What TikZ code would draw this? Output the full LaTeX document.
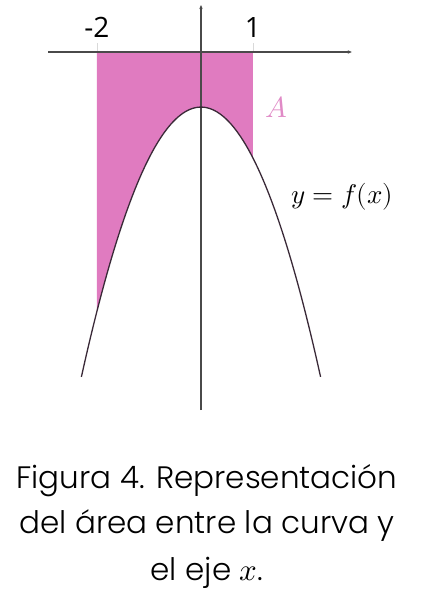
\documentclass[tikz,border=0pt]{standalone}
\usepackage{fontspec}
\usepackage{unicode-math}
\setmainfont{Poppins}[UprightFont=* Light]
\setmathfont{Latin Modern Math}
\newfontfamily\tickfont{Open Sans}
\usetikzlibrary{arrows.meta}
\definecolor{fpink}{HTML}{E07BC0}
\definecolor{fpinktxt}{HTML}{E08AC6}
\definecolor{faxis}{HTML}{4A4A4A}
\definecolor{fcurve}{HTML}{3A2A38}
\tikzset{
  axis/.style    = {draw=faxis, line width=1.3pt, -{Stealth[length=4pt,width=3.5pt]}},
  curve/.style   = {draw=fcurve, line width=1.3pt},
  region/.style  = {fill=fpink},
  faint/.style   = {draw=black!15, line width=0.6pt},
  ticklab/.style = {font=\tickfont\fontsize{28}{30}\selectfont},
  caption/.style = {anchor=base, font=\fontsize{31}{33}\selectfont},
}

\begin{document}
\begin{tikzpicture}[x=52pt,y=51pt]
\useasboundingbox (-3.865,-10.627) rectangle (4.212,1.0196);
% shaded area
\fill[region] (-2,0) -- plot[domain=-2:1,samples=60] (\x,{-1.08-\x*\x}) -- (1,0) -- cycle;
\draw[faint] (-2,0) -- (-2,0.18);
\draw[faint] (1,0) -- (1,0.18);
% axes
\draw[axis] (-2.94,0) -- (2.9,0);
\draw[axis] (0,-7.02) -- (0,0.92);
% curve
\draw[curve] plot[domain=-2.3:2.3,samples=100] (\x,{-1.08-\x*\x});
\node[ticklab] (tm2) at (-2,0.49) {-2};
\node[ticklab] (tp1) at (1,0.49) {1};
\node[text=fpinktxt,font=\fontsize{29}{30}\selectfont] (area) at (1.45,-1.08) {$A$};
\node[anchor=west,inner sep=0pt,font=\fontsize{27}{30}\selectfont] (func) at (1.73,-2.84) {$y=f(x)$};
% caption
\node[caption] (cap1) at (0.115,-8.549) {Figura 4. Representación};
\node[caption] (cap2) at (0.115,-9.45) {del área entre la curva y};
\node[caption] (cap3) at (0.115,-10.37) {el eje $x$.};
\end{tikzpicture}
\end{document}
